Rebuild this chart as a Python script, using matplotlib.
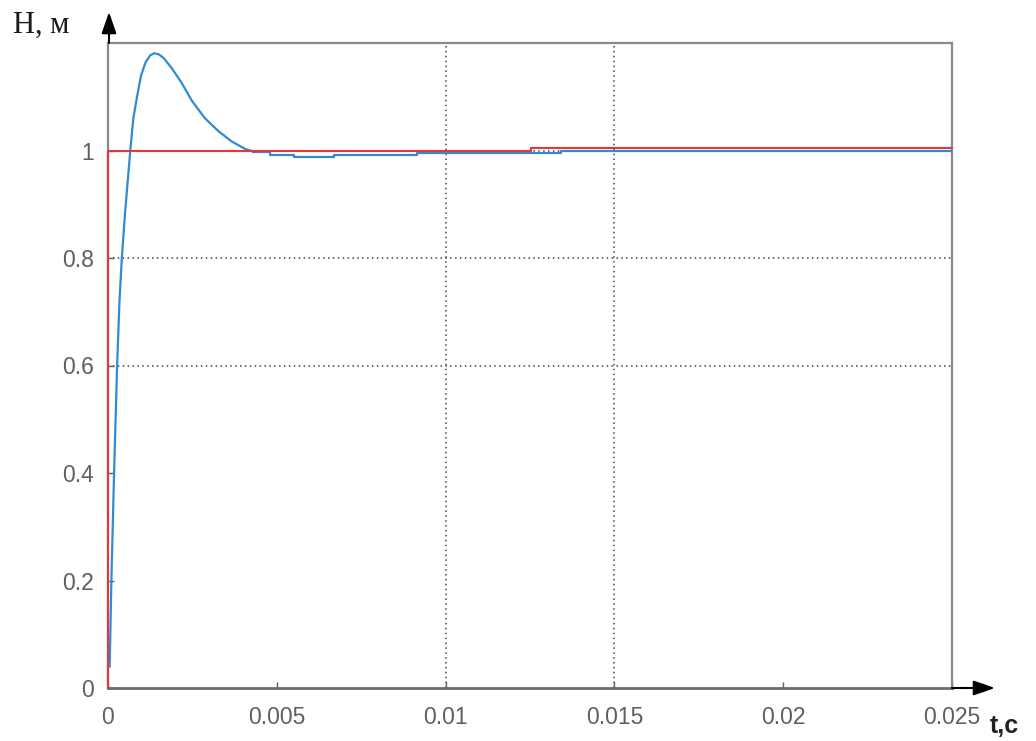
import matplotlib
matplotlib.use("Agg")
import matplotlib.pyplot as plt

# ---- data ----
rise_t = [0.00005, 0.00010, 0.00018, 0.00027, 0.00034, 0.00041, 0.00050, 0.00058,
          0.00066, 0.00075, 0.00086, 0.00098, 0.00112, 0.00125, 0.00137, 0.00150,
          0.00165, 0.00189, 0.00218, 0.00248, 0.00287, 0.00327, 0.00366, 0.00406,
          0.00430]
rise_h = [0.04, 0.20, 0.40, 0.60, 0.72, 0.80, 0.88, 0.94,
          1.00, 1.06, 1.10, 1.14, 1.165, 1.177, 1.181, 1.179,
          1.172, 1.153, 1.126, 1.093, 1.060, 1.036, 1.017, 1.003,
          0.998]
tail_t = [0.00430, 0.00480, 0.00550, 0.00670, 0.00914, 0.01343, 0.025]
tail_h = [0.998, 0.992, 0.987, 0.992, 0.996, 0.9985, 0.9985]

ref_t = [0.0, 0.0, 0.01252, 0.025]
ref_h = [0.0, 1.0, 1.004, 1.004]

x_ticks = [0, 0.005, 0.01, 0.015, 0.02, 0.025]
x_labels = ["0", "0.005", "0.01", "0.015", "0.02", "0.025"]
y_ticks = [0, 0.2, 0.4, 0.6, 0.8, 1.0]
y_labels = ["0", "0.2", "0.4", "0.6", "0.8", "1"]
vgrid = [0.01, 0.015]
hgrid = [0.6, 0.8, 1.0]

blue = "#2f8bd3"
red = "#e8353c"
gray = "#5f5f5f"

fig = plt.figure(figsize=(10.36, 7.41), dpi=100)
ax = fig.add_axes([108/1036, 1-688/741, (952-108)/1036, (688-43)/741])
ax.set_xlim(0, 0.025)
ax.set_ylim(0, 1.2)

for xv in vgrid:
    ax.axvline(xv, color="#444444", lw=1.1, ls=(0, (1, 2.2)), zorder=1)
for yv in hgrid:
    ax.axhline(yv, color="#444444", lw=1.1, ls=(0, (1, 2.2)), zorder=1)

ax.plot(rise_t, rise_h, color=blue, lw=1.6, zorder=3)
ax.plot(tail_t, tail_h, color=blue, lw=1.6, drawstyle="steps-post", zorder=3)
ax.plot(ref_t, ref_h, color=red, lw=1.5, drawstyle="steps-post", zorder=4, clip_on=False)

ax.set_xticks(x_ticks)
ax.set_xticklabels(x_labels)
ax.set_yticks(y_ticks)
ax.set_yticklabels(y_labels)
ax.tick_params(direction="in", length=4, color=gray, labelcolor=gray,
               labelsize=16.5, width=1)
ax.tick_params(axis="x", pad=13)
ax.tick_params(axis="y", pad=10)
for lab in ax.get_xticklabels() + ax.get_yticklabels():
    lab.set_family("Liberation Sans")

for s in ["left", "top", "right"]:
    ax.spines[s].set_color("#8a8a8a")
    ax.spines[s].set_linewidth(1.6)
ax.spines["bottom"].set_color("#6a6a6a")
ax.spines["bottom"].set_linewidth(2)

# axis arrows
ax.annotate("", xy=(995/1036, 1-688/741), xytext=(952/1036, 1-688/741),
            xycoords="figure fraction", textcoords="figure fraction",
            arrowprops=dict(arrowstyle="-|>,head_length=1.3,head_width=0.45",
                            color="black", lw=1.5, shrinkA=0, shrinkB=0))
ax.annotate("", xy=(109/1036, 1-12/741), xytext=(109/1036, 1-43/741),
            xycoords="figure fraction", textcoords="figure fraction",
            arrowprops=dict(arrowstyle="-|>,head_length=1.3,head_width=0.45",
                            color="black", lw=1.5, shrinkA=0, shrinkB=0))

fig.text(13/1036, 1-33/741, "H, м", family="Liberation Serif", fontsize=22,
         color="#1a1a1a", ha="left", va="baseline")
fig.text(990/1036, 1-733/741, "t,c", family="Liberation Sans", fontsize=18,
         fontweight="bold", color="#222222", ha="left", va="baseline")

fig.savefig("out.png", dpi=100)
